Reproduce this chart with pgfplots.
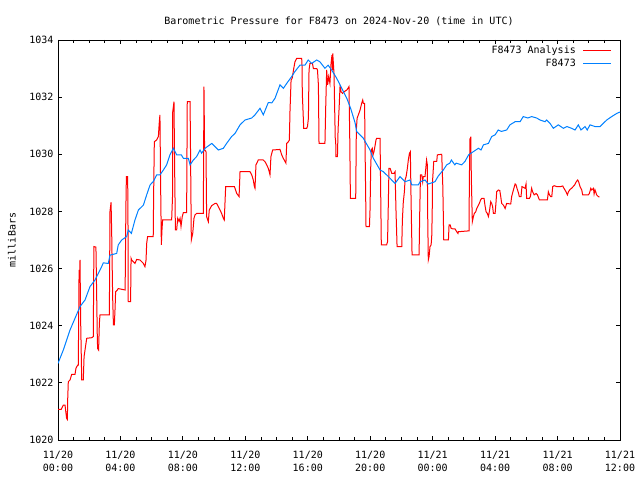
\documentclass[border=0pt]{standalone}
\usepackage{fontspec}
\setmainfont{DejaVu Sans Mono}
\usepackage{pgfplots}
\pgfplotsset{compat=1.18}
\definecolor{gred}{RGB}{255,0,0}
\definecolor{gblue}{RGB}{0,128,255}
\begin{document}
\fontsize{10bp}{12bp}\selectfont
\begin{tikzpicture}
\useasboundingbox (0,0) rectangle (640bp,480bp);
\begin{axis}[
  at={(58bp,40bp)}, anchor=south west,
  scale only axis, width=562bp, height=400bp,
  xmin=0, xmax=36, ymin=1020, ymax=1034,
  xtick={0,4,...,36}, minor xtick={0,1,...,36},
  ytick={1020,1022,...,1034},
  xticklabels={{11/20\\00:00},{11/20\\04:00},{11/20\\08:00},{11/20\\12:00},{11/20\\16:00},{11/20\\20:00},{11/21\\00:00},{11/21\\04:00},{11/21\\08:00},{11/21\\12:00}},
  xticklabel style={align=center, font=\fontsize{10bp}{12.5bp}\selectfont, yshift=-8bp},
  yticklabel style={font=\fontsize{10bp}{11bp}\selectfont, xshift=-1bp},
  /pgf/number format/assume math mode=true,
  /pgf/number format/set thousands separator={},
  tick align=inside, major tick length=4bp, minor tick length=3bp,
  tick style={black, line width=0.8bp},
  axis line style={black, line width=0.8bp},
  title={Barometric Pressure for F8473 on 2024-Nov-20 (time in UTC)},
  title style={at={(0.5,1)}, anchor=center, yshift=13bp, font=\fontsize{10bp}{11bp}\selectfont},
  ylabel={milliBars},
  ylabel style={at={(axis description cs:-0.082,0.5)}, anchor=center, font=\fontsize{10bp}{11bp}\selectfont},
  legend style={draw=none, fill=none, at={(1,1)}, anchor=north east, xshift=-8bp, yshift=-4.5bp, inner sep=0pt, row sep=2.5bp, font=\fontsize{10bp}{11bp}\selectfont, nodes={inner sep=1bp}},
  legend cell align=right, legend plot pos=right,
  legend image code/.code={\path (0bp,0bp); \draw[#1] (6bp,0bp) -- (34bp,0bp);},
]
\addplot[gred, line width=1bp] coordinates {
(0,1021.07)(0.2,1021.07)(0.34,1021.22)(0.45,1021.22)(0.55,1020.76)(0.6,1020.72)(0.62,1021.4)(0.66,1022.04)(0.77,1022.1)(0.88,1022.3)(1.09,1022.3)(1.15,1022.51)(1.26,1022.62)(1.3,1022.62)(1.35,1025.95)(1.38,1025.5)(1.41,1026.3)(1.45,1024.2)(1.52,1022.1)(1.62,1022.1)(1.67,1022.92)(1.73,1023.15)(1.84,1023.56)(2.16,1023.58)(2.26,1023.62)(2.3,1026.77)(2.43,1026.75)(2.48,1024.96)(2.52,1023.5)(2.54,1023.2)(2.6,1023.15)(2.65,1024.08)(2.69,1024.38)(3.29,1024.38)(3.33,1028.0)(3.4,1028.32)(3.44,1027.23)(3.5,1025.02)(3.55,1024.03)(3.61,1024.03)(3.66,1024.67)(3.69,1025.19)(3.8,1025.25)(3.86,1025.3)(4.3,1025.25)(4.35,1028.17)(4.38,1029.22)(4.46,1029.22)(4.48,1028.17)(4.5,1024.84)(4.65,1024.84)(4.68,1026.36)(4.72,1026.3)(4.93,1026.18)(5.04,1026.32)(5.25,1026.3)(5.47,1026.18)(5.57,1026.07)(5.64,1026.3)(5.68,1026.88)(5.74,1027.12)(6.1,1027.12)(6.13,1028.75)(6.17,1030.44)(6.32,1030.5)(6.43,1030.62)(6.49,1031.14)(6.53,1031.38)(6.57,1029.1)(6.62,1026.83)(6.66,1027.35)(6.7,1027.7)(7.28,1027.7)(7.34,1028.58)(7.35,1031.49)(7.43,1031.84)(7.47,1029.57)(7.52,1027.35)(7.6,1027.35)(7.67,1027.76)(7.75,1027.65)(7.82,1027.76)(7.88,1027.47)(7.96,1027.82)(8.03,1027.96)(8.24,1027.96)(8.28,1031.84)(8.46,1031.84)(8.5,1029.45)(8.54,1027.0)(8.63,1027.23)(8.71,1027.76)(8.78,1027.88)(8.88,1027.93)(9.31,1027.93)(9.35,1032.37)(9.39,1030.15)(9.48,1030.1)(9.52,1027.82)(9.63,1027.64)(9.69,1028.05)(9.84,1028.2)(10.06,1028.28)(10.16,1028.28)(10.27,1028.17)(10.38,1028.05)(10.48,1027.93)(10.59,1027.76)(10.65,1027.7)(10.7,1028.34)(10.74,1028.87)(11.3,1028.87)(11.45,1028.63)(11.6,1028.52)(11.66,1029.39)(12.3,1029.39)(12.41,1029.28)(12.51,1029.1)(12.58,1028.87)(12.62,1028.81)(12.68,1029.63)(12.83,1029.8)(13.15,1029.8)(13.26,1029.74)(13.37,1029.63)(13.47,1029.51)(13.53,1029.39)(13.58,1029.28)(13.64,1029.92)(13.75,1030.15)(14.22,1030.17)(14.33,1029.98)(14.43,1029.86)(14.54,1029.75)(14.6,1029.69)(14.65,1030.38)(14.76,1030.44)(14.82,1030.5)(14.86,1031.49)(14.93,1032.6)(15.0,1032.66)(15.1,1033.0)(15.18,1033.24)(15.29,1033.36)(15.61,1033.36)(15.63,1033.12)(15.65,1032.13)(15.74,1030.91)(15.93,1030.91)(15.98,1030.97)(16.04,1031.26)(16.08,1032.95)(16.14,1033.18)(16.3,1033.18)(16.36,1033.0)(16.57,1033.0)(16.62,1032.96)(16.68,1032.43)(16.72,1030.38)(17.1,1030.38)(17.15,1031.67)(17.21,1032.95)(17.27,1032.43)(17.34,1032.72)(17.42,1032.48)(17.49,1033.18)(17.55,1033.47)(17.59,1032.95)(17.6,1033.53)(17.68,1032.83)(17.72,1031.67)(17.76,1030.56)(17.79,1030.44)(17.8,1029.92)(17.9,1029.92)(17.94,1030.85)(18.02,1031.78)(18.07,1032.43)(18.13,1032.19)(18.23,1032.13)(18.33,1032.19)(18.5,1032.25)(18.6,1032.33)(18.64,1032.37)(18.69,1030.5)(18.73,1028.46)(19.07,1028.46)(19.11,1030.85)(19.16,1031.26)(19.24,1031.38)(19.35,1031.55)(19.45,1031.78)(19.52,1031.9)(19.56,1031.78)(19.64,1031.78)(19.66,1030.62)(19.71,1028.52)(19.73,1027.47)(19.95,1027.47)(19.99,1028.1)(20.03,1029.51)(20.07,1030.15)(20.13,1030.21)(20.18,1029.98)(20.24,1030.09)(20.3,1030.27)(20.37,1030.5)(20.41,1030.56)(20.63,1030.56)(20.67,1028.69)(20.71,1026.83)(21.05,1026.83)(21.11,1026.94)(21.16,1028.28)(21.2,1029.51)(21.27,1029.51)(21.31,1029.45)(21.38,1029.33)(21.52,1029.33)(21.59,1029.39)(21.65,1028.05)(21.72,1026.77)(22.02,1026.77)(22.06,1027.7)(22.12,1028.34)(22.19,1028.69)(22.23,1029.1)(22.3,1029.22)(22.38,1029.51)(22.44,1029.8)(22.51,1030.03)(22.57,1030.09)(22.62,1028.28)(22.68,1026.48)(23.13,1026.48)(23.17,1027.93)(23.22,1029.28)(23.3,1029.28)(23.36,1029.04)(23.4,1029.22)(23.51,1029.22)(23.57,1029.57)(23.61,1029.8)(23.66,1029.63)(23.68,1027.93)(23.72,1026.3)(23.77,1026.42)(23.83,1026.77)(23.9,1026.83)(23.94,1027.12)(23.97,1027.93)(23.99,1029.04)(24.07,1029.75)(24.26,1029.75)(24.3,1029.98)(24.58,1030.0)(24.65,1028.87)(24.71,1027.0)(25.01,1027.0)(25.05,1027.53)(25.12,1027.53)(25.18,1027.41)(25.28,1027.39)(25.43,1027.39)(25.54,1027.29)(25.62,1027.23)(25.65,1027.29)(26.33,1027.32)(26.35,1029.1)(26.39,1030.56)(26.42,1030.38)(26.44,1030.62)(26.48,1029.1)(26.54,1027.64)(26.61,1027.82)(26.67,1027.93)(26.76,1027.99)(26.82,1028.1)(26.93,1028.22)(26.99,1028.28)(27.07,1028.4)(27.14,1028.46)(27.29,1028.46)(27.35,1028.22)(27.42,1027.99)(27.5,1027.93)(27.57,1027.82)(27.63,1027.99)(27.72,1028.34)(27.78,1028.28)(27.84,1028.17)(27.89,1027.93)(28.0,1027.93)(28.06,1028.34)(28.1,1028.69)(28.2,1028.75)(28.3,1028.73)(28.36,1028.52)(28.42,1028.28)(28.53,1028.22)(28.64,1028.1)(28.74,1028.28)(29.0,1028.26)(29.06,1028.52)(29.17,1028.75)(29.28,1028.96)(29.34,1028.93)(29.4,1028.81)(29.49,1028.66)(29.55,1028.52)(29.66,1028.52)(29.72,1028.87)(29.92,1028.81)(29.98,1028.96)(30.02,1028.46)(30.2,1028.46)(30.26,1028.52)(30.34,1028.81)(30.4,1028.69)(30.5,1028.58)(30.63,1028.63)(30.71,1028.58)(30.84,1028.4)(31.35,1028.4)(31.41,1028.69)(31.48,1028.58)(31.56,1028.52)(31.63,1028.52)(31.69,1028.87)(31.78,1028.9)(31.95,1028.87)(32.2,1028.87)(32.33,1028.89)(32.41,1028.81)(32.54,1028.69)(32.63,1028.58)(32.7,1028.69)(32.8,1028.77)(32.9,1028.81)(33.0,1028.87)(33.1,1028.93)(33.2,1029.04)(33.29,1029.1)(33.35,1029.04)(33.44,1028.87)(33.55,1028.75)(33.61,1028.58)(33.97,1028.58)(34.04,1028.63)(34.13,1028.81)(34.19,1028.75)(34.3,1028.81)(34.34,1028.61)(34.4,1028.75)(34.46,1028.66)(34.5,1028.58)(34.61,1028.52)(34.68,1028.5)
};
\addlegendentry{F8473 Analysis}
\addplot[gblue, line width=1bp] coordinates {
(0,1022.68)(0.34,1023.15)(0.77,1023.85)(1.09,1024.26)(1.41,1024.67)(1.73,1024.9)(2.05,1025.37)(2.37,1025.6)(2.8,1026.07)(2.9,1026.2)(3.22,1026.18)(3.33,1026.47)(3.76,1026.53)(3.86,1026.83)(4.08,1027.0)(4.4,1027.12)(4.5,1027.35)(4.7,1027.23)(4.93,1027.7)(5.15,1028.05)(5.47,1028.22)(5.68,1028.58)(5.9,1028.93)(6.1,1029.04)(6.32,1029.28)(6.53,1029.28)(6.75,1029.45)(6.96,1029.63)(7.17,1029.98)(7.39,1030.21)(7.6,1029.98)(7.9,1029.98)(8.03,1029.86)(8.35,1029.86)(8.46,1029.63)(8.67,1029.80)(8.88,1029.92)(9.1,1030.15)(9.2,1030.04)(9.42,1030.21)(9.85,1030.38)(10.27,1030.15)(10.59,1030.21)(10.8,1030.38)(11.12,1030.62)(11.34,1030.73)(11.66,1031.03)(11.98,1031.2)(12.41,1031.27)(12.62,1031.38)(12.94,1031.61)(13.15,1031.38)(13.47,1031.81)(13.7,1031.8)(13.9,1031.96)(14.22,1032.43)(14.44,1032.31)(14.65,1032.48)(14.97,1032.72)(15.18,1032.9)(15.5,1033.12)(15.82,1033.12)(16.03,1033.3)(16.25,1033.18)(16.57,1033.3)(16.77,1033.24)(17.1,1033.01)(17.3,1033.12)(17.53,1032.95)(17.85,1032.66)(18.07,1032.43)(18.5,1031.96)(18.75,1031.6)(19.03,1031.1)(19.13,1030.8)(19.56,1030.56)(19.99,1030.15)(20.2,1029.86)(20.63,1029.45)(20.84,1029.39)(21.16,1029.22)(21.59,1028.98)(21.91,1029.22)(22.23,1029.04)(22.55,1029.1)(22.66,1028.93)(23.08,1028.93)(23.2,1029.04)(23.51,1029.1)(23.72,1028.96)(24.15,1029.04)(24.36,1029.24)(24.68,1029.45)(24.9,1029.63)(25.1,1029.69)(25.2,1029.80)(25.42,1029.63)(25.5,1029.69)(25.86,1029.63)(26.07,1029.75)(26.3,1029.98)(26.6,1030.09)(26.93,1030.21)(27.1,1030.15)(27.25,1030.33)(27.57,1030.38)(27.78,1030.62)(28.0,1030.68)(28.2,1030.85)(28.4,1030.8)(28.74,1030.85)(28.95,1031.03)(29.28,1031.14)(29.6,1031.14)(29.8,1031.32)(30.1,1031.27)(30.34,1031.32)(30.66,1031.27)(30.88,1031.2)(31.2,1031.14)(31.3,1031.2)(31.52,1031.08)(31.73,1030.91)(32.05,1031.03)(32.37,1030.91)(32.6,1030.97)(32.9,1030.91)(33.12,1030.85)(33.33,1031.03)(33.5,1030.85)(33.76,1030.97)(33.9,1030.85)(34.08,1031.03)(34.4,1030.97)(34.72,1030.97)(35.15,1031.2)(35.47,1031.32)(35.79,1031.43)(36,1031.48)
};
\addlegendentry{F8473}
\end{axis}
\end{tikzpicture}
\end{document}
